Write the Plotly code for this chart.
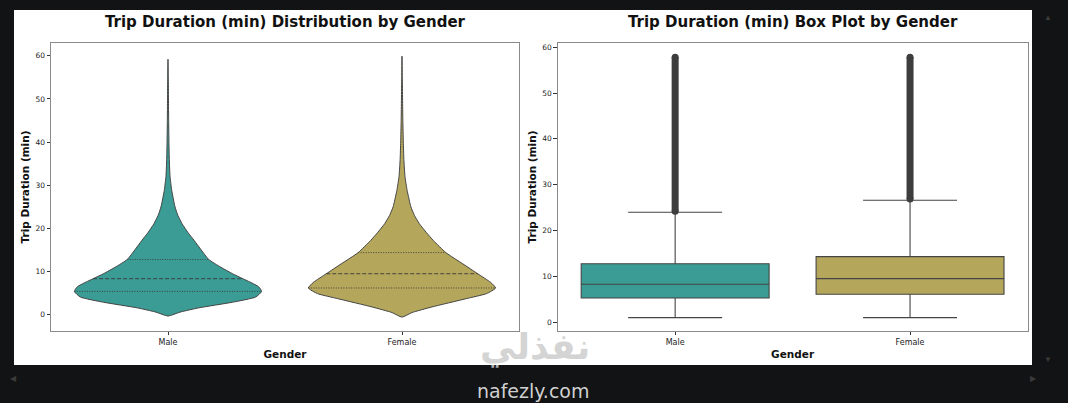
import numpy as np
import plotly.graph_objects as go
from plotly.subplots import make_subplots

# ---- data ----
genders = ["Male", "Female"]
colors = ["#3a9c95", "#b4a65a"]

# violin outline: trip duration (min) vs. relative width (1 = widest)
male_v = [-0.3, 0.6, 1.6, 2.9, 4.1, 5.4, 6.5, 8.35, 9.5, 11.0, 12.8, 15.0, 17.2,
          19.0, 21.1, 23.0, 25.0, 28.8, 32.0, 36.0, 40.0, 45.0, 50.0, 55.0, 59.2]
male_density = [0, 0.128, 0.33, 0.69, 0.936, 1.0, 0.968, 0.80, 0.69, 0.565, 0.435, 0.355, 0.28,
                0.215, 0.15, 0.106, 0.075, 0.04, 0.022, 0.014, 0.01, 0.007, 0.005, 0.003, 0]
female_v = [-0.55, 0.5, 1.8, 3.7, 4.9, 6.2, 7.5, 9.5, 11.8, 14.4, 17.2, 19.0, 21.1,
            23.0, 25.0, 28.8, 32.0, 36.0, 40.0, 45.0, 50.0, 55.0, 59.9]
female_density = [0, 0.106, 0.319, 0.681, 0.904, 1.0, 0.947, 0.809, 0.649, 0.468, 0.335, 0.262, 0.185,
                  0.133, 0.095, 0.055, 0.032, 0.02, 0.014, 0.009, 0.006, 0.003, 0]

# inner quartile lines of the violins (q1, median, q3)
male_quart = [5.4, 8.35, 12.8]
female_quart = [6.2, 9.5, 14.4]

# box plot statistics
box_q1 = [5.3, 6.1]
box_median = [8.3, 9.5]
box_q3 = [12.75, 14.3]
box_low = [1.0, 1.0]
box_high = [24.0, 26.6]
outlier_min = [24.2, 26.9]
outlier_max = [57.8, 57.8]

W, H = 1068, 403
LINE = "#444444"
FONT = "DejaVu Sans"

fig = make_subplots(rows=1, cols=2)

half = 0.4  # max half width of violin in category units
profiles = [(male_v, male_density, male_quart), (female_v, female_density, female_quart)]
for i, (vals, dens, quart) in enumerate(profiles):
    d = np.array(dens)
    yv = np.array(vals)
    xs = np.concatenate([i - half * d, (i + half * d)[::-1]])
    ys = np.concatenate([yv, yv[::-1]])
    fig.add_trace(go.Scatter(x=xs, y=ys, mode="lines", fill="toself", fillcolor=colors[i],
                             line=dict(color=LINE, width=1, shape="spline", smoothing=0.5),
                             hoverinfo="skip", showlegend=False), row=1, col=1)
    for k, q in enumerate(quart):
        w = half * np.interp(q, yv, d)
        fig.add_trace(go.Scatter(x=[i - w, i + w], y=[q, q], mode="lines",
                                 line=dict(color="#3a3a3a", width=0.9,
                                           dash="4px,2px" if k == 1 else "1px,1.5px"),
                                 hoverinfo="skip", showlegend=False), row=1, col=1)

for i in range(2):
    fig.add_trace(go.Scatter(x=[i, i], y=[outlier_min[i], outlier_max[i]], mode="lines+markers",
                             line=dict(color="#3d3d3d", width=7),
                             marker=dict(color="#3d3d3d", size=7),
                             hoverinfo="skip", showlegend=False), row=1, col=2)
    fig.add_trace(go.Box(x=[i], q1=[box_q1[i]], median=[box_median[i]], q3=[box_q3[i]],
                         lowerfence=[box_low[i]], upperfence=[box_high[i]],
                         width=0.8, whiskerwidth=0.5, fillcolor=colors[i],
                         line=dict(color=LINE, width=1.1), boxpoints=False,
                         hoverinfo="skip", showlegend=False), row=1, col=2)

ydom = [1 - 330.7 / H, 1 - 43.3 / H]
axis_common = dict(showline=True, mirror=True, linecolor="#8a8a8a", linewidth=1,
                   showgrid=False, zeroline=False, ticks="outside", ticklen=3.5,
                   tickcolor="#333", tickfont=dict(family=FONT, size=7.5, color="#222"))
fig.update_xaxes(axis_common)
fig.update_yaxes(axis_common)
fig.update_xaxes(tickvals=[0, 1], ticktext=genders, range=[-0.5, 1.5], tickfont=dict(size=8),
                 title=dict(text="<b>Gender</b>", font=dict(family=FONT, size=10.5, color="#111"), standoff=4))
fig.update_yaxes(tickvals=[0, 10, 20, 30, 40, 50, 60], domain=ydom,
                 title=dict(text="<b>Trip Duration (min)</b>", font=dict(family=FONT, size=10.5, color="#111"), standoff=3))
fig.update_xaxes(domain=[51 / W, 519 / W], row=1, col=1)
fig.update_xaxes(domain=[557.7 / W, 1027.5 / W], row=1, col=2)
fig.update_yaxes(range=[-3.7, 62.9], row=1, col=1)
fig.update_yaxes(range=[-1.85, 60.85], row=1, col=2)

titles = [("Trip Duration (min) Distribution by Gender", 285 / W),
          ("Trip Duration (min) Box Plot by Gender", 792.6 / W)]
annotations = []
for text, xc in titles:
    annotations.append(dict(text="<b>" + text + "</b>", x=xc, y=1 - 22 / H, xref="paper", yref="paper",
                            xanchor="center", yanchor="middle", showarrow=False,
                            font=dict(family=FONT, size=15, color="#111")))
# watermark and scroll arrows of the screenshot
annotations.append(dict(text="<b>نفذلي</b>", x=535 / W, y=1 - 347 / H, xref="paper", yref="paper",
                        xanchor="center", yanchor="middle", showarrow=False,
                        font=dict(family=FONT, size=36, color="rgba(205,205,205,0.85)")))
annotations.append(dict(text="nafezly.com", x=533 / W, y=1 - 391 / H, xref="paper", yref="paper",
                        xanchor="center", yanchor="middle", showarrow=False,
                        font=dict(family=FONT, size=19, color="#d0d0d0")))
for sym, xp, yp in [("▲", 1048, 17), ("▼", 1048, 358), ("◀", 13, 377), ("▶", 1033, 377)]:
    annotations.append(dict(text=sym, x=xp / W, y=1 - yp / H, xref="paper", yref="paper",
                            xanchor="center", yanchor="middle", showarrow=False,
                            font=dict(size=8, color="#3a3a3a")))

fig.update_layout(
    width=W, height=H, autosize=False,
    margin=dict(l=0, r=0, t=0, b=0),
    paper_bgcolor="#121314", plot_bgcolor="white",
    annotations=annotations,
    shapes=[dict(type="rect", xref="paper", yref="paper", x0=14 / W, x1=1032 / W,
                 y0=1 - 365 / H, y1=1 - 10 / H, fillcolor="white", line=dict(width=0), layer="below")],
)

fig.write_html("out.html", config={"displayModeBar": False},
               post_script="document.body.style.margin='0';document.body.style.overflow='hidden';")
